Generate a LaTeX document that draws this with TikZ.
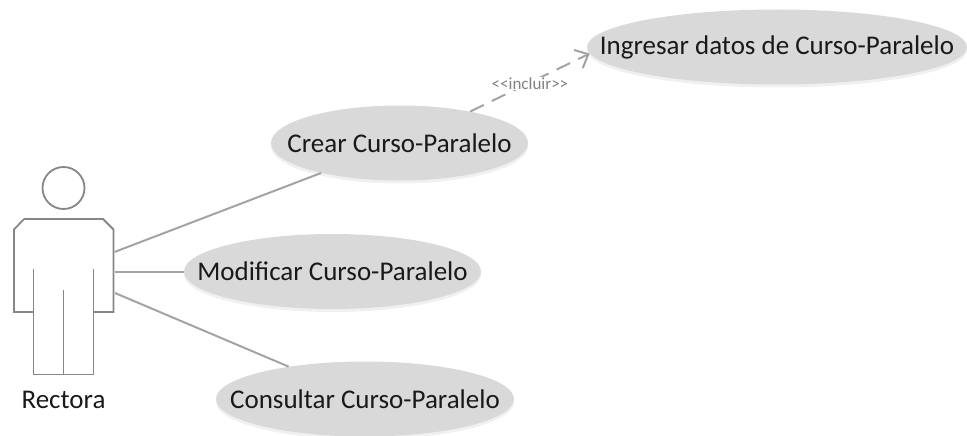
\documentclass[tikz,border=0pt]{standalone}
\usepackage{fontspec}
\setmainfont{Carlito}
\usetikzlibrary{shapes.geometric, shadows, arrows.meta}
\definecolor{linegray}{HTML}{A3A3A3}
\definecolor{casegray}{HTML}{D9D9D9}
\definecolor{actorgray}{HTML}{868686}
\newcommand{\casetext}[1]{\makebox[0pt]{#1}}
\tikzset{
    usecase/.style={ellipse, fill=casegray, minimum width=#1, minimum height=75pt, inner sep=0pt, text=black!90,
        font=\fontsize{27}{32}\selectfont, drop shadow={shadow xshift=0pt, shadow yshift=-3pt, opacity=.15, fill=black!40}},
    assoc/.style={draw=linegray, line width=2pt},
    actorline/.style={draw=actorgray, line width=1.8pt},
}
\begin{document}
\begin{tikzpicture}[x=1pt, y=-1pt]
        \useasboundingbox (0, 0) rectangle (967, 436);

        \node[usecase=380pt] (ingresar) at (777, 47) {\casetext{Ingresar datos de Curso-Paralelo}};
        \node[usecase=257pt] (crear) at (399.5, 143) {\casetext{Crear Curso-Paralelo}};
        \node[usecase=297pt] (modificar) at (332.5, 271.5) {\casetext{Modificar Curso-Paralelo}};
        \node[usecase=298pt] (consultar) at (365, 399) {\casetext{Consultar Curso-Paralelo}};

        \node[draw=actorgray, line width=1.8pt, circle, minimum size=42pt, inner sep=0pt] (head) at (63.5, 188) {};
        \draw[actorline] (24, 219) -- (103, 219) -- (113.5, 229.5) -- (113.5, 312) -- (93.5, 312);
        \draw[actorline] (24, 219) -- (14, 229.5) -- (14, 312) -- (33.5, 312);
        \draw[actorline] (33.5, 269) -- (33.5, 374.5) -- (93.5, 374.5) -- (93.5, 269);
        \draw[actorline] (63.5, 290) -- (63.5, 374.5);
        \node[font=\fontsize{27}{32}\selectfont, text=black!90] (rectora) at (63.5, 400) {Rectora};

        \coordinate (armA) at (114.5, 252);
        \coordinate (armB) at (114.5, 271.5);
        \coordinate (armC) at (115, 293);

        \draw[assoc] (armA) -- (crear);
        \draw[assoc] (armB) -- (modificar);
        \draw[assoc] (armC) -- (consultar);

        \draw[assoc, dash pattern=on 15pt off 9pt, -{Straight Barb[length=11pt, width=20pt]}] (crear.24) -- node[fill=white, inner sep=1pt, yshift=-1pt, text=gray, font=\fontsize{17}{20}\selectfont] (incluir) {{<}{<}incluir{>}{>}} (ingresar.182);
    \end{tikzpicture}
\end{document}
